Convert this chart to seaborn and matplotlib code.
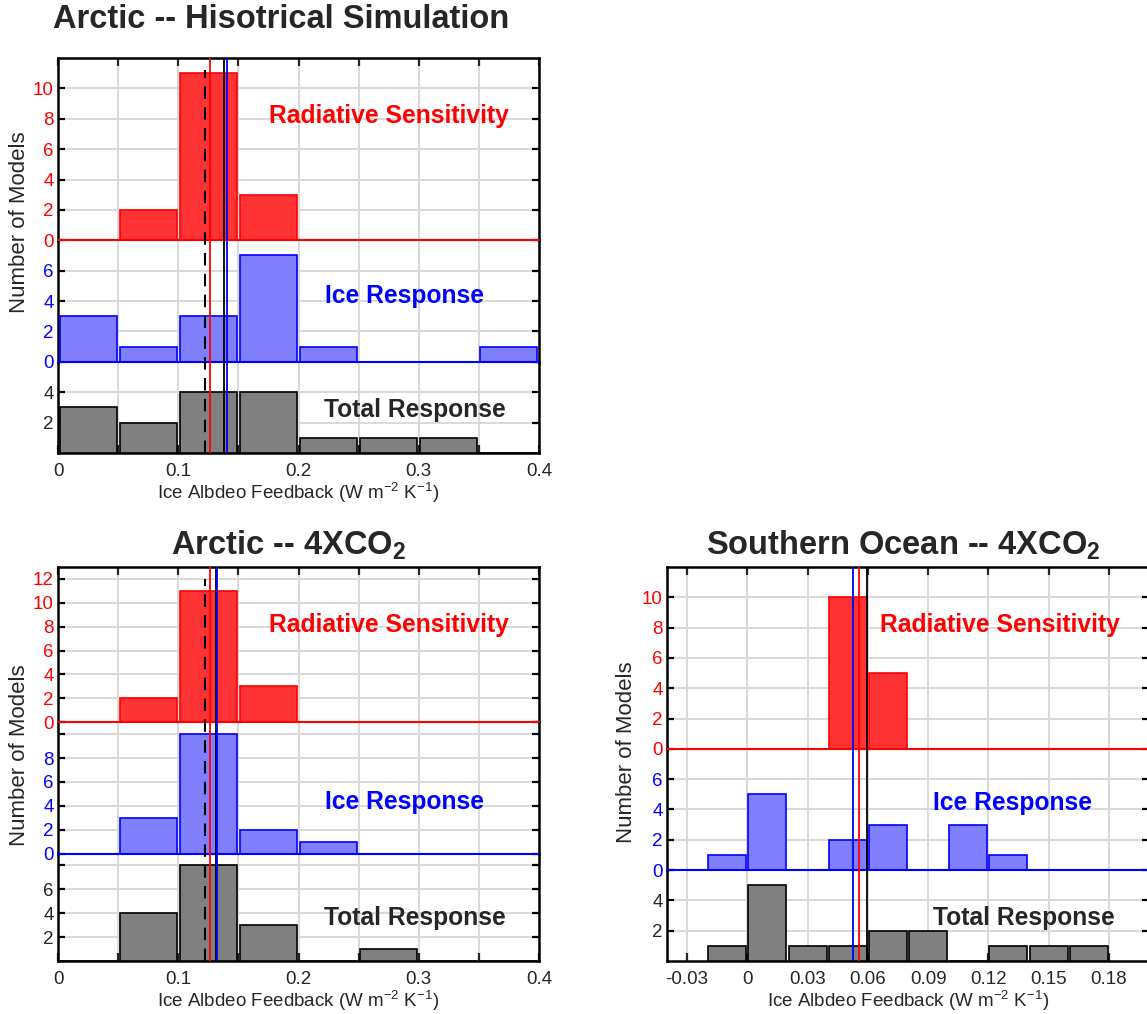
import numpy as np
import matplotlib
matplotlib.use("Agg")
import matplotlib.pyplot as plt
import seaborn as sns

sns.set_style("white")
plt.rcParams["font.family"] = ["Liberation Sans", "DejaVu Sans"]
plt.rcParams["mathtext.fontset"] = "custom"
plt.rcParams["mathtext.rm"] = "Liberation Sans"
plt.rcParams["mathtext.bf"] = "Liberation Sans:bold"
plt.rcParams["mathtext.default"] = "regular"

# ---------------- data ----------------
arctic_edges = [0.0, 0.05, 0.10, 0.15, 0.20, 0.25, 0.30, 0.35, 0.40]
hist_rad = [0, 2, 11, 3, 0, 0, 0, 0]
hist_ice = [3, 1, 3, 7, 1, 0, 0, 1]
hist_tot = [3, 2, 4, 4, 1, 1, 1, 0]

co2_rad = [0, 2, 11, 3, 0, 0, 0, 0]
co2_ice = [0, 3, 10, 2, 1, 0, 0, 0]
co2_tot = [0, 4, 8, 3, 0, 1, 0, 0]

so_edges = [-0.02, 0.0, 0.02, 0.04, 0.06, 0.08, 0.10, 0.12, 0.14, 0.16, 0.18]
so_rad = [0, 0, 0, 10, 5, 0, 0, 0, 0, 0]
so_ice = [1, 5, 0, 2, 3, 0, 3, 1, 0, 0]
so_tot = [1, 5, 1, 1, 2, 2, 0, 1, 1, 1]

# mean lines: (dashed reference, radiative, total, ice)
hist_lines = {"dash": 0.1225, "rad": 0.126, "tot": 0.138, "ice": 0.1408}
co2_lines = {"dash": 0.1225, "rad": 0.126, "tot": 0.1318, "ice": 0.132}
so_lines = {"dash": None, "rad": 0.0555, "tot": 0.0595, "ice": 0.0527}

arctic_xticks = [0.0, 0.05, 0.10, 0.15, 0.20, 0.25, 0.30, 0.35, 0.40]
arctic_xlabels = ["0", "", "0.1", "", "0.2", "", "0.3", "", "0.4"]
so_xticks = [-0.03, 0.0, 0.03, 0.06, 0.09, 0.12, 0.15, 0.18]
so_xlabels = ["-0.03", "0", "0.03", "0.06", "0.09", "0.12", "0.15", "0.18"]

RED = "#FF0000"
BLUE = "#0000FF"
DARK = "#262626"
GRID = "#d9d9d9"
TICK_FS = 13.5

fig = plt.figure(figsize=(11.47, 10.14), dpi=100)
W, H = 1147.0, 1014.0


def panel(px_left, px_right, px_top, px_bottom, edges, counts, units, yticks,
          ylabels, xlim, xticks, xlabels, lines, label_pos):
    left = px_left / W
    width = (px_right - px_left) / W
    bottom = 1 - px_bottom / H
    height = (px_bottom - px_top) / H
    total = float(sum(units))
    centers = [(a + b) / 2 for a, b in zip(edges[:-1], edges[1:])]
    styles = [
        dict(face="#FF3333", edge=RED, tc=RED, name="Radiative Sensitivity"),
        dict(face="#8080FF", edge=BLUE, tc=BLUE, name="Ice Response"),
        dict(face="#808080", edge="black", tc=DARK, name="Total Response"),
    ]
    cur_top = bottom + height
    axes = []
    for i, (cnt, u, st) in enumerate(zip(counts, units, styles)):
        h = height * u / total
        ax = fig.add_axes([left, cur_top - h, width, h], zorder=5 - i)
        ax.patch.set_visible(False)
        cur_top -= h
        sns.histplot(x=centers, weights=cnt, bins=edges, ax=ax, shrink=0.95,
                     color=st["face"], edgecolor=st["edge"], linewidth=1.2,
                     alpha=1.0, zorder=3)
        ax.set_xlim(*xlim)
        ax.set_ylim(0, u)
        ax.set_xlabel("")
        ax.set_ylabel("")
        ax.set_xticks(xticks)
        ax.set_yticks(yticks[i])
        ax.set_yticklabels(ylabels[i])
        ax.grid(True, color=GRID, linewidth=1.4)
        ax.set_axisbelow(True)
        for s in ["left", "right", "top", "bottom"]:
            ax.spines[s].set_color("black")
            ax.spines[s].set_linewidth(1.8)
        ax.tick_params(axis="y", direction="in", left=True, right=True,
                       length=5, width=1.6, color="black", labelcolor=st["tc"],
                       labelsize=TICK_FS, pad=3)
        if i == 0:
            ax.spines["bottom"].set_visible(False)
            ax.tick_params(axis="x", direction="in", top=True, bottom=False,
                           labelbottom=False, length=6, width=1.6)
        elif i == 1:
            ax.spines["bottom"].set_visible(False)
            ax.spines["top"].set_visible(False)
            ax.tick_params(axis="x", top=False, bottom=False, labelbottom=False)
        else:
            ax.spines["top"].set_visible(False)
            ax.tick_params(axis="x", direction="in", top=False, bottom=True,
                           length=6, width=1.6, labelcolor=DARK,
                           labelsize=TICK_FS, pad=7)
            ax.set_xticklabels(xlabels)
            ax.set_xlabel("Ice Albdeo Feedback (W m$^{-2}$ K$^{-1}$)",
                          fontsize=13.5, color=DARK, labelpad=1)
        if i < 2:
            ax.axhline(0, color=st["edge"], linewidth=1.5, zorder=4,
                       clip_on=False)
        lx, ly = label_pos[i]
        ax.text(lx, ly, st["name"], transform=ax.transAxes, ha="center",
                va="center", color=st["tc"], fontsize=17.7, fontweight="bold",
                zorder=6)
        axes.append(ax)
    # overlay for mean lines spanning the full panel
    ov = fig.add_axes([left, bottom, width, height], zorder=10)
    ov.patch.set_visible(False)
    ov.set_xlim(*xlim)
    ov.set_ylim(0, 1)
    ov.axis("off")
    if lines["dash"] is not None:
        ov.axvline(lines["dash"], ymax=0.97, color="black", linewidth=1.5,
                   dashes=(6, 4))
    ov.axvline(lines["rad"], color=RED, linewidth=1.3)
    ov.axvline(lines["tot"], color="black", linewidth=1.3)
    ov.axvline(lines["ice"], color=BLUE, linewidth=1.3)
    return axes


# ---- Arctic historical ----
panel(58, 539, 58, 453, arctic_edges, [hist_rad, hist_ice, hist_tot],
      [12, 8, 6],
      [[0, 2, 4, 6, 8, 10], [0, 2, 4, 6], [2, 4]],
      [["0", "2", "4", "6", "8", "10"], ["0", "2", "4", "6"], ["2", "4"]],
      (0, 0.4), arctic_xticks, arctic_xlabels, hist_lines,
      [(0.688, 0.68), (0.72, 0.545), (0.742, 0.467)])

# ---- Arctic 4xCO2 ----
panel(58, 539, 567, 961, arctic_edges, [co2_rad, co2_ice, co2_tot],
      [13, 11, 9],
      [[0, 2, 4, 6, 8, 10, 12], [0, 2, 4, 6, 8, 10], [2, 4, 6, 8]],
      [["0", "2", "4", "6", "8", "10", "12"], ["0", "2", "4", "6", "8", ""],
       ["2", "4", "6", ""]],
      (0, 0.4), arctic_xticks, arctic_xlabels, co2_lines,
      [(0.688, 0.626), (0.72, 0.39), (0.742, 0.40)])

# ---- Southern Ocean 4xCO2 ----
panel(667, 1149, 567, 961, so_edges, [so_rad, so_ice, so_tot],
      [12, 8, 6],
      [[0, 2, 4, 6, 8, 10], [0, 2, 4, 6], [2, 4]],
      [["0", "2", "4", "6", "8", "10"], ["0", "2", "4", "6"], ["2", "4"]],
      (-0.04, 0.2), so_xticks, so_xlabels, so_lines,
      [(0.69, 0.68), (0.717, 0.557), (0.74, 0.47)])

# titles
TITLE_FS = 23.5
fig.text(281 / W, 1 - 20 / H, "Arctic -- Hisotrical Simulation", ha="center",
         va="center", fontsize=TITLE_FS, fontweight="bold", color=DARK)
fig.text(289 / W, 1 - 545 / H, r"Arctic -- 4XCO$_\mathbf{2}$", ha="center",
         va="center", fontsize=TITLE_FS, fontweight="bold", color=DARK)
fig.text(903 / W, 1 - 545 / H, r"Southern Ocean -- 4XCO$_\mathbf{2}$",
         ha="center", va="center", fontsize=TITLE_FS, fontweight="bold",
         color=DARK)

# y labels
for x, y in [(20, 222), (20, 755), (627, 752)]:
    fig.text(x / W, 1 - y / H, "Number of Models", rotation=90, ha="center",
             va="center", fontsize=16, color=DARK)

fig.savefig("out.png", dpi=100)
